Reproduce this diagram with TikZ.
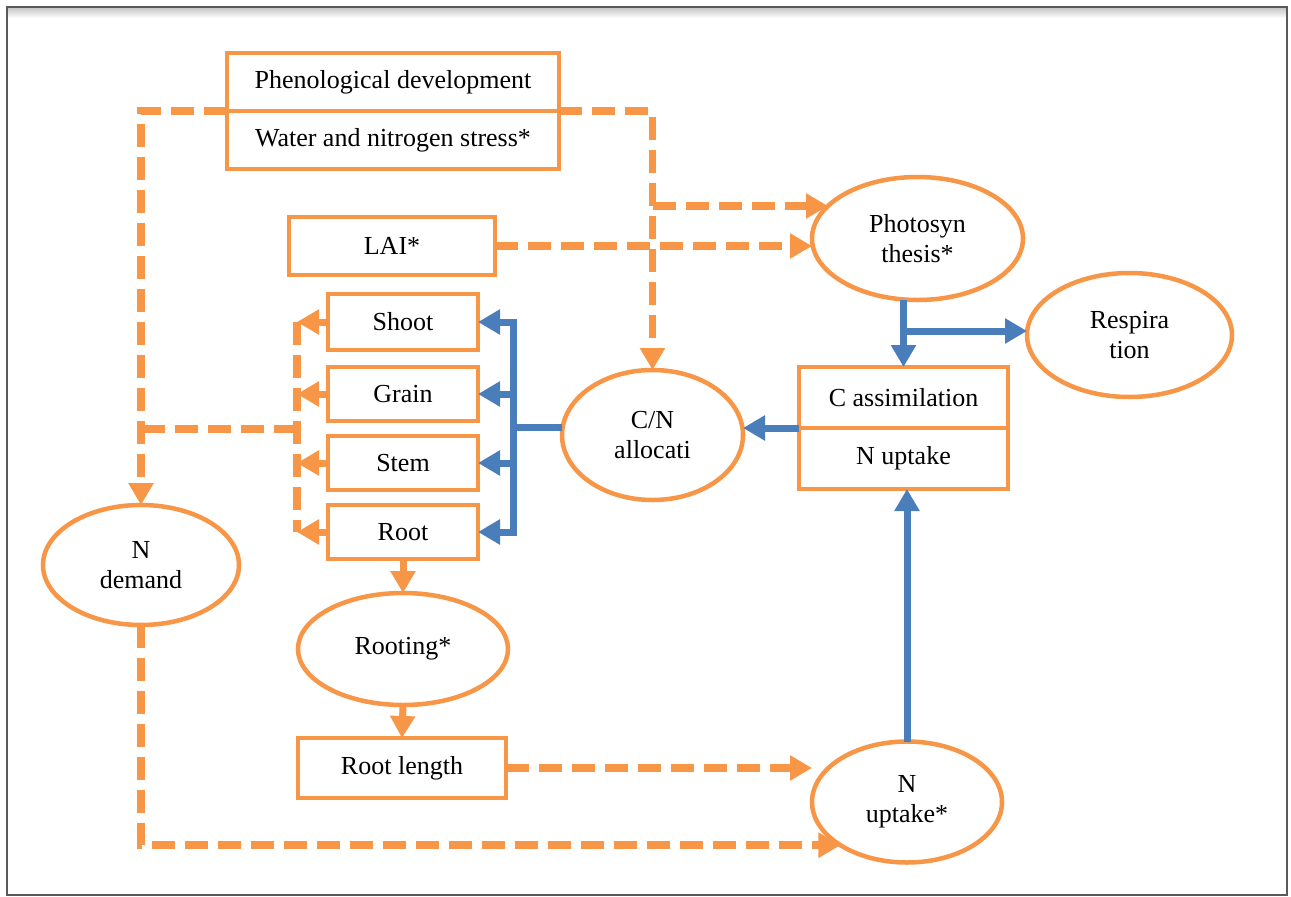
\documentclass[tikz,border=0pt]{standalone}
\usepackage{fontspec}
\setmainfont{Liberation Serif}
\usetikzlibrary{arrows.meta,shapes.geometric}
\definecolor{orng}{HTML}{F79646}
\definecolor{blu}{HTML}{4A7EBB}
\definecolor{frm}{HTML}{5A5A5A}
\begin{document}
\begin{tikzpicture}[x=1pt,y=-1pt,
  txt/.style={font=\fontsize{26}{30}\selectfont, align=center, text=black},
  box/.style={txt, draw=orng, line width=4.5pt, rectangle, inner sep=0pt, outer sep=0pt},
  ell/.style={txt, draw=orng, line width=4.5pt, ellipse, inner sep=0pt, outer sep=0pt},
  tip/.style={-{Triangle[length=22pt,width=24pt]}},
  odash/.style={draw=orng, line width=7.5pt, dash pattern=on 23pt off 10pt},
  osolid/.style={draw=orng, line width=7pt},
  bline/.style={draw=blu, line width=7pt},
]
\useasboundingbox (0,0) rectangle (1291,897);
\fill[white] (0,0) rectangle (1291,897);
\shade[top color=black!22, bottom color=white] (8,8) rectangle (1286,18);
\draw[frm, line width=2pt] (7,7) rectangle (1287,895);

% nodes
\node[box, minimum width=332pt, minimum height=58pt] (ph1) at (393,82) {Phenological development};
\node[box, minimum width=332pt, minimum height=58pt] (ph2) at (393,140) {Water and nitrogen stress*};
\node[box, minimum width=206pt, minimum height=58pt] (lai) at (392,246) {LAI*};
\node[box, minimum width=150pt, minimum height=56pt] (shoot) at (403,322) {Shoot};
\node[box, minimum width=150pt, minimum height=54pt] (grain) at (403,394) {Grain};
\node[box, minimum width=150pt, minimum height=54pt] (stem) at (403,463) {Stem};
\node[box, minimum width=150pt, minimum height=54pt] (root) at (403,532) {Root};
\node[ell, minimum width=181pt, minimum height=130pt] (cn) at (652.5,435) {C/N\\allocati};
\node[ell, minimum width=211pt, minimum height=123pt] (photo) at (917.5,238.5) {Photosyn\\thesis*};
\node[ell, minimum width=205pt, minimum height=124pt] (resp) at (1129.5,335) {Respira\\tion};
\node[box, minimum width=209pt, minimum height=61pt] (ca1) at (903.5,397.5) {C assimilation};
\node[box, minimum width=209pt, minimum height=61pt] (ca2) at (903.5,458.5) {N uptake};
\node[ell, minimum width=196pt, minimum height=120pt] (ndem) at (141,565) {N\\demand};
\node[ell, minimum width=210pt, minimum height=112pt] (rooting) at (403,649) {Rooting*};
\node[box, minimum width=208pt, minimum height=60pt] (rlen) at (402,768) {Root length};
\node[ell, minimum width=190pt, minimum height=121pt] (nup) at (907,802) {N\\uptake*};

% helper coordinates
\coordinate (oc) at (297,429);
\coordinate (pj) at (652.5,206);
\coordinate (bj) at (903.5,331);
\coordinate (bv) at (513,427);

% orange dashed connectors
\draw[odash, tip] (ph1.south west) -| (ndem.north);
\draw[odash, tip] (ph1.south east) -| (cn.north);
\draw[odash, tip] (pj) -- (pj -| photo.160);
\draw[odash, tip] (lai.east) -- (lai.east -| photo.west);
\draw[odash] (oc |- shoot.west) -- (oc |- root.west);
\draw[odash] (oc) -- (oc -| ndem.north);
\draw[odash, tip] (rlen.east) -- (rlen.east -| nup.west);
\draw[odash, tip] (ndem.south) |- (nup.213);

% orange solid arrows
\foreach \b in {shoot,grain,stem,root}
  \draw[osolid, tip] (\b.west) -- (\b.west -| oc);
\draw[osolid, tip] (root.south) -- (rooting.north);
\draw[osolid, tip] (rooting.south) -- (rlen.north);

% blue connectors
\draw[bline, tip] (photo.south -| ca1.north) -- (ca1.north);
\draw[bline, tip] (bj) -- (bj -| resp.west);
\draw[bline, tip] (ca1.south west) -- (ca1.south west -| cn.east);
\draw[bline, tip] (nup.north) -- (nup.north |- ca2.south);
\draw[bline] (bv -| cn.west) -- (bv);
\draw[bline, line cap=rect] (bv |- shoot.east) -- (bv |- root.east);
\foreach \b in {shoot,grain,stem,root}
  \draw[bline, tip] (bv |- \b.east) -- (\b.east);
\end{tikzpicture}
\end{document}
